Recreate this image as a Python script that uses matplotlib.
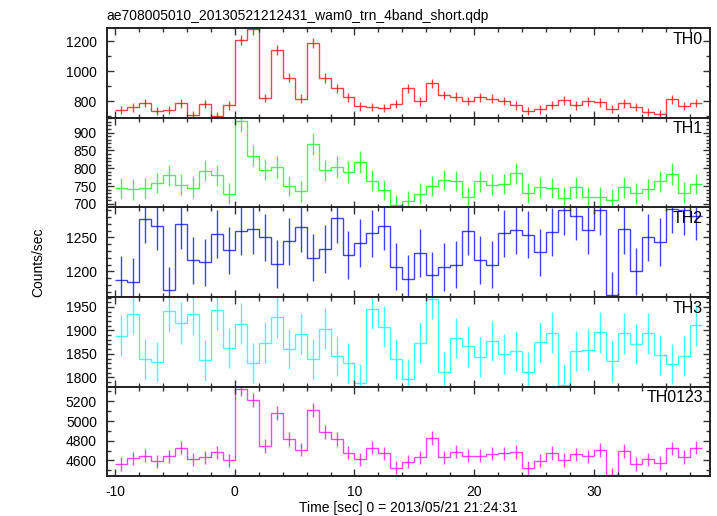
import numpy as np
import matplotlib
matplotlib.use("Agg")
import matplotlib.pyplot as plt
from matplotlib.ticker import MultipleLocator

plt.rcParams['font.family'] = ['Liberation Sans', 'DejaVu Sans']
plt.rcParams['axes.unicode_minus'] = False

title = "ae708005010_20130521212431_wam0_trn_4band_short.qdp"
xlabel = "Time [sec] 0 = 2013/05/21 21:24:31"
ylabel = "Counts/sec"

bin_edges = list(range(-10, 40))  # 1-s bins from -10 to 39

names = ["TH0", "TH1", "TH2", "TH3", "TH0123"]
colors = ["#ff0000", "#00ff00", "#0000ff", "#00ffff", "#ff00ff"]

th0 = [742, 760, 791, 735, 742, 787, 712, 782, 701, 773,
       1209, 1279, 822, 1144, 957, 818, 1187, 955, 888, 827, 766, 762, 757, 782, 888,
       800, 921, 843, 831, 804, 827, 818, 802, 773, 733, 746, 775, 807, 773, 800, 793,
       748, 787, 762, 730, 717, 813, 769, 789]
th0_err = [27, 28, 28, 27, 27, 28, 27, 28, 26, 28,
           35, 36, 29, 34, 31, 29, 34, 31, 30, 29, 28, 28, 28, 28, 30,
           28, 30, 29, 29, 28, 29, 29, 28, 28, 27, 27, 28, 28, 28, 28, 28,
           27, 28, 28, 27, 27, 29, 28, 28]

th1 = [744, 741, 744, 759, 780, 754, 746, 793, 780, 729,
       933, 835, 796, 804, 750, 735, 867, 794, 804, 789, 817, 765, 739, 697, 709,
       729, 750, 767, 764, 719, 763, 754, 756, 786, 731, 747, 745, 718, 747, 719, 719,
       712, 747, 730, 741, 763, 784, 732, 756]
th1_err = [29, 29, 29, 29, 30, 29, 29, 30, 30, 29,
           32, 30, 30, 30, 29, 29, 31, 30, 30, 30, 30, 29, 29, 28, 28,
           29, 29, 29, 29, 29, 29, 29, 29, 30, 29, 29, 29, 29, 29, 29, 29,
           29, 29, 29, 29, 29, 30, 29, 29]

th2 = [1187, 1184, 1277, 1267, 1173, 1269, 1216, 1213, 1255, 1231,
       1259, 1262, 1250, 1211, 1244, 1265, 1220, 1233, 1278, 1224, 1242, 1256, 1267, 1207, 1189,
       1227, 1194, 1206, 1210, 1259, 1217, 1210, 1256, 1261, 1254, 1228, 1258, 1290, 1282, 1261,
       1290, 1165, 1262, 1200, 1250, 1243, 1292, 1290, 1282]
th2_err = [35, 35, 36, 36, 34, 36, 35, 35, 35, 35,
           35, 36, 35, 35, 35, 36, 35, 35, 36, 35, 35, 35, 36, 35, 35,
           35, 35, 35, 35, 35, 35, 35, 35, 36, 35, 35, 35, 36, 36, 36,
           36, 34, 36, 35, 35, 35, 36, 36, 36]

th3 = [1889, 1936, 1839, 1832, 1941, 1916, 1934, 1836, 1944, 1863,
       1914, 1831, 1874, 1928, 1861, 1893, 1839, 1904, 1846, 1831, 1787, 1946, 1908, 1839, 1796,
       1874, 1968, 1811, 1884, 1866, 1844, 1877, 1850, 1856, 1812, 1875, 1895, 1784, 1856, 1859,
       1896, 1834, 1894, 1871, 1894, 1848, 1829, 1846, 1911]
th3_err = [43, 44, 43, 43, 44, 44, 44, 43, 44, 43,
           44, 43, 43, 44, 43, 44, 43, 44, 43, 43, 42, 44, 44, 43, 42,
           43, 44, 43, 43, 43, 43, 43, 43, 43, 43, 43, 44, 42, 43, 43,
           44, 43, 44, 43, 44, 43, 43, 43, 44]

th0123 = [4563, 4620, 4650, 4590, 4640, 4730, 4610, 4630, 4683, 4600,
          5323, 5210, 4747, 5080, 4817, 4710, 5110, 4887, 4820, 4680, 4610, 4730, 4673, 4527, 4587,
          4630, 4830, 4630, 4690, 4650, 4650, 4670, 4673, 4687, 4523, 4597, 4677, 4603, 4663, 4640,
          4703, 4457, 4693, 4563, 4610, 4573, 4723, 4633, 4730]
th0123_err = [68, 68, 68, 68, 68, 69, 68, 68, 68, 68,
              73, 72, 69, 71, 69, 69, 71, 70, 69, 68, 68, 69, 68, 67, 68,
              68, 70, 68, 68, 68, 68, 68, 68, 68, 67, 68, 68, 68, 68, 68,
              69, 67, 69, 68, 68, 68, 69, 68, 69]

series = [th0, th1, th2, th3, th0123]
errors = [th0_err, th1_err, th2_err, th3_err, th0123_err]

ylims = [(690, 1286), (690, 941), (1162, 1294), (1780, 1971), (4439, 5348)]
ymajor = [200, 50, 50, 50, 200]
yminor = [100, 10, 10, 10, 100]
xlim = (-10.7, 39.7)

W, H = 717, 516
fig = plt.figure(figsize=(W / 100, H / 100), dpi=100)
left, right = 106.7 / W, 710 / W
top_px, bot_px = 28.3, 476.3
ph = (bot_px - top_px) / 5

edges = np.array(bin_edges, dtype=float)
centers = (edges[:-1] + edges[1:]) / 2

for i in range(5):
    y0 = 1 - (top_px + (i + 1) * ph) / H
    ax = fig.add_axes([left, y0, right - left, ph / H])
    vals = np.array(series[i], dtype=float)
    errs = np.array(errors[i], dtype=float)
    ax.stairs(vals, edges, color=colors[i], linewidth=1.0, alpha=0.75, baseline=None)
    ax.errorbar(centers, vals, yerr=errs, fmt='none', ecolor=colors[i], elinewidth=1.0, alpha=0.75)
    ax.set_xlim(*xlim)
    ax.set_ylim(*ylims[i])
    ax.xaxis.set_major_locator(MultipleLocator(10))
    ax.xaxis.set_minor_locator(MultipleLocator(2))
    ax.yaxis.set_major_locator(MultipleLocator(ymajor[i]))
    ax.yaxis.set_minor_locator(MultipleLocator(yminor[i]))
    ax.tick_params(which='both', direction='in', top=True, right=True, width=1.0, color='#333333')
    ax.tick_params(which='major', length=5)
    ax.tick_params(which='minor', length=3)
    ax.tick_params(axis='y', labelsize=10, pad=7)
    ax.tick_params(axis='x', labelsize=10, pad=6)
    for s in ax.spines.values():
        s.set_linewidth(1.4)
        s.set_color('#222222')
    if i < 4:
        ax.tick_params(axis='x', labelbottom=False)
    ax.text(0.988, 0.96, names[i], transform=ax.transAxes, ha='right', va='top', fontsize=11.5)

fig.text(left, 1 - 20 / H, title, ha='left', va='baseline', fontsize=10)
fig.text((left + right) / 2, 1 - 508 / H, xlabel, ha='center', va='center', fontsize=10)
fig.text(38 / W, 1 - 262 / H, ylabel, ha='center', va='center', rotation=90, fontsize=10)

fig.savefig("out.png", dpi=100)
